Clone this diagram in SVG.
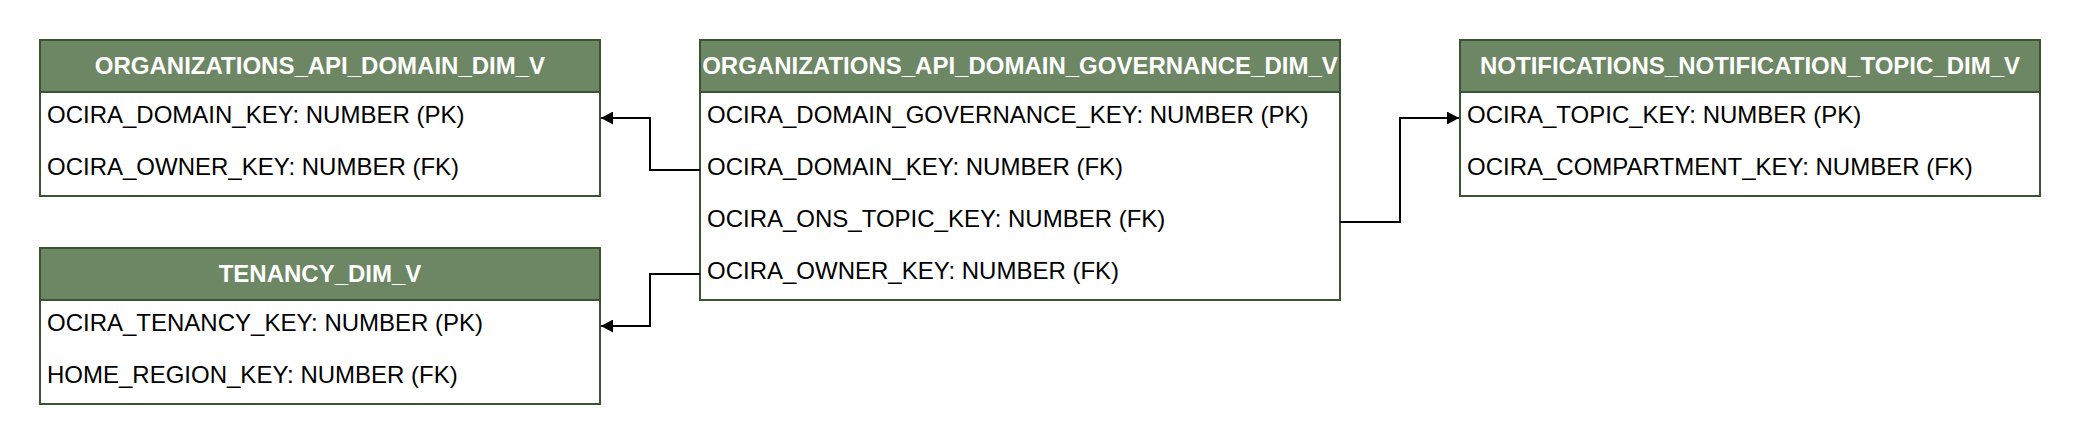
<svg xmlns="http://www.w3.org/2000/svg" width="2080" height="444" viewBox="0 0 2080 444">
<style>
.box{fill:#ffffff;stroke:#3A5431;stroke-width:2}
.hdr{fill:#6D8764;stroke:#3A5431;stroke-width:2}
.ht{font-family:"Liberation Sans",Arial,Helvetica,sans-serif;font-size:24px;font-weight:bold;fill:#ffffff;text-anchor:middle}
.rt{font-family:"Liberation Sans",Arial,Helvetica,sans-serif;font-size:24px;fill:#000000}
.conn{fill:none;stroke:#000000;stroke-width:2}
</style>
<defs>
<marker id="arr" viewBox="0 0 12 13" refX="12" refY="6.5" markerWidth="12" markerHeight="13" markerUnits="userSpaceOnUse" orient="auto">
<path d="M0,0 L12,6.5 L0,13 Z" fill="#000000"/>
</marker>
</defs>
<rect width="2080" height="444" fill="#ffffff"/>
<g id="organizations_api_domain_dim_v">
<rect class="box" x="40" y="40" width="560" height="156"/>
<rect class="hdr" x="40" y="40" width="560" height="52"/>
<text class="ht" x="320" y="74">ORGANIZATIONS_API_DOMAIN_DIM_V</text>
<text class="rt" x="47" y="122.5">OCIRA_DOMAIN_KEY: NUMBER (PK)</text>
<text class="rt" x="47" y="174.5">OCIRA_OWNER_KEY: NUMBER (FK)</text>
</g>
<g id="tenancy_dim_v">
<rect class="box" x="40" y="248" width="560" height="156"/>
<rect class="hdr" x="40" y="248" width="560" height="52"/>
<text class="ht" x="320" y="282">TENANCY_DIM_V</text>
<text class="rt" x="47" y="330.5">OCIRA_TENANCY_KEY: NUMBER (PK)</text>
<text class="rt" x="47" y="382.5">HOME_REGION_KEY: NUMBER (FK)</text>
</g>
<g id="organizations_api_domain_governance_dim_v">
<rect class="box" x="700" y="40" width="640" height="260"/>
<rect class="hdr" x="700" y="40" width="640" height="52"/>
<text class="ht" x="1020" y="74">ORGANIZATIONS_API_DOMAIN_GOVERNANCE_DIM_V</text>
<text class="rt" x="707" y="122.5">OCIRA_DOMAIN_GOVERNANCE_KEY: NUMBER (PK)</text>
<text class="rt" x="707" y="174.5">OCIRA_DOMAIN_KEY: NUMBER (FK)</text>
<text class="rt" x="707" y="226.5">OCIRA_ONS_TOPIC_KEY: NUMBER (FK)</text>
<text class="rt" x="707" y="278.5">OCIRA_OWNER_KEY: NUMBER (FK)</text>
</g>
<g id="notifications_notification_topic_dim_v">
<rect class="box" x="1460" y="40" width="580" height="156"/>
<rect class="hdr" x="1460" y="40" width="580" height="52"/>
<text class="ht" x="1750" y="74">NOTIFICATIONS_NOTIFICATION_TOPIC_DIM_V</text>
<text class="rt" x="1467" y="122.5">OCIRA_TOPIC_KEY: NUMBER (PK)</text>
<text class="rt" x="1467" y="174.5">OCIRA_COMPARTMENT_KEY: NUMBER (FK)</text>
</g>
<g id="connectors">
<path class="conn" d="M700,170 H650 V118 H601" marker-end="url(#arr)"/>
<path class="conn" d="M700,274 H650 V326 H601" marker-end="url(#arr)"/>
<path class="conn" d="M1340,222 H1400 V118 H1459" marker-end="url(#arr)"/>
</g>
</svg>
